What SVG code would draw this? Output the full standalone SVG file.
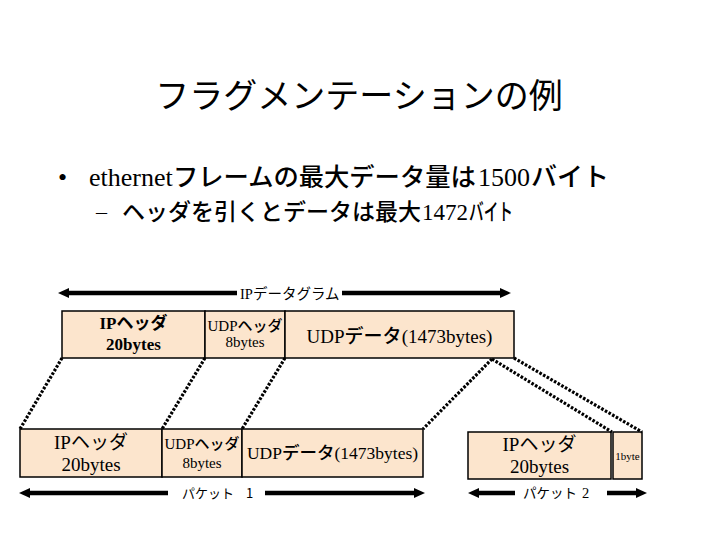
<svg xmlns="http://www.w3.org/2000/svg" width="720" height="540" viewBox="0 0 720 540">
<style>
.bx{fill:#FCE5CD;stroke:#000;stroke-width:1.5}
text{fill:#000}
.s{font-family:"Liberation Serif","Times New Roman",serif}
.j{font-family:"Noto Sans CJK JP","Noto Sans CJK SC",sans-serif}
.dot{fill:none;stroke:#000;stroke-width:3.2;stroke-dasharray:2.6 1.6}
.ar{stroke:#000;stroke-width:4.5;fill:none}
.hd{fill:#000}
</style>
<rect width="720" height="540" fill="#fff"/>
<text class="j" x="359" y="108" font-size="34" text-anchor="middle">フラグメンテーションの例</text>
<text class="s" x="58" y="186" font-size="26">•</text>
<text font-size="26" y="186"><tspan class="s" x="89">ethernet</tspan><tspan class="j" x="173" font-size="25.3" font-weight="500">フレームの最大データ量は</tspan><tspan class="s" x="478">1500</tspan><tspan class="j" x="531" font-weight="500">バイト</tspan></text>
<text class="s" x="96" y="219" font-size="22">–</text>
<text font-size="23" y="220"><tspan class="j" x="122" font-weight="500">ヘッダを引くとデータは最大</tspan><tspan class="s" x="422">1472</tspan><tspan class="j" x="469" font-weight="500" textLength="44" lengthAdjust="spacingAndGlyphs">バイト</tspan></text>

<g id="datagram-label"><text x="240" y="299" font-size="14.5"><tspan class="s">IP</tspan><tspan class="j">データグラム</tspan></text></g>

<g id="ip-header-top">
<rect class="bx" x="62" y="311" width="143" height="47"/>
<text x="133.5" y="329" font-size="17" font-weight="bold" text-anchor="middle"><tspan class="s">IP</tspan><tspan class="j">ヘッダ</tspan></text>
<text class="s" x="133.5" y="350" font-size="17" font-weight="bold" text-anchor="middle">20bytes</text>
</g>
<g id="udp-header-top">
<rect class="bx" x="205" y="311" width="80" height="47"/>
<text x="245" y="331" font-size="15" text-anchor="middle"><tspan class="s">UDP</tspan><tspan class="j" font-weight="500">ヘッダ</tspan></text>
<text class="s" x="245" y="347" font-size="15" text-anchor="middle">8bytes</text>
</g>
<g id="udp-data-top">
<rect class="bx" x="285" y="311" width="229" height="47"/>
<text x="399.5" y="343" font-size="19" text-anchor="middle"><tspan class="s">UDP</tspan><tspan class="j" font-weight="500">データ</tspan><tspan class="s">(1473bytes)</tspan></text>
</g>

<g id="ip-header-p1">
<rect class="bx" x="20" y="429" width="142" height="48"/>
<text x="91" y="449" font-size="19" text-anchor="middle"><tspan class="s">IP</tspan><tspan class="j">ヘッダ</tspan></text>
<text class="s" x="91" y="471" font-size="19" text-anchor="middle">20bytes</text>
</g>
<g id="udp-header-p1">
<rect class="bx" x="162" y="429" width="80" height="48"/>
<text x="202" y="449" font-size="15" text-anchor="middle"><tspan class="s">UDP</tspan><tspan class="j" font-weight="500">ヘッダ</tspan></text>
<text class="s" x="202" y="468" font-size="15" text-anchor="middle">8bytes</text>
</g>
<g id="udp-data-p1">
<rect class="bx" x="242" y="429" width="181" height="48"/>
<text x="332.5" y="459" font-size="17.5" text-anchor="middle"><tspan class="s">UDP</tspan><tspan class="j" font-weight="500">データ</tspan><tspan class="s">(1473bytes)</tspan></text>
</g>

<g id="ip-header-p2">
<rect class="bx" x="468" y="432" width="143" height="47"/>
<text x="539.5" y="451" font-size="19" text-anchor="middle"><tspan class="s">IP</tspan><tspan class="j">ヘッダ</tspan></text>
<text class="s" x="539.5" y="473" font-size="19" text-anchor="middle">20bytes</text>
</g>
<g id="one-byte-p2">
<rect class="bx" x="613" y="432" width="29" height="47"/>
<text class="s" x="627.5" y="460" font-size="11" text-anchor="middle">1byte</text>
</g>

<g id="packet-labels">
<text class="j" x="182" y="498" font-size="13">パケット <tspan x="246">1</tspan></text>
<text x="523" y="498" font-size="13.5"><tspan class="j">パケット </tspan><tspan class="s" x="582" font-size="14.5">2</tspan></text>
</g>

<g id="connectors">
<line class="dot" x1="62" y1="358" x2="20" y2="429"/>
<line class="dot" x1="205" y1="358" x2="162" y2="429"/>
<line class="dot" x1="285" y1="358" x2="242" y2="429"/>
<line class="dot" x1="492" y1="359" x2="423" y2="429"/>
<line class="dot" x1="492" y1="359" x2="612" y2="432"/>
<line class="dot" x1="514" y1="358" x2="642" y2="432"/>

<line class="ar" x1="66" y1="293" x2="237" y2="293"/>
<polygon class="hd" points="58,293 69,288 69,298"/>
<line class="ar" x1="342" y1="293" x2="503" y2="293"/>
<polygon class="hd" points="511,293 500,288 500,298"/>

<line class="ar" x1="27" y1="493" x2="168" y2="493"/>
<polygon class="hd" points="19,493 30,488 30,498"/>
<line class="ar" x1="265" y1="493" x2="417" y2="493"/>
<polygon class="hd" points="425,493 414,488 414,498"/>

<line class="ar" x1="476" y1="493" x2="515" y2="493"/>
<polygon class="hd" points="468,493 479,488 479,498"/>
<line class="ar" x1="607" y1="493" x2="639" y2="493"/>
<polygon class="hd" points="647,493 636,488 636,498"/>
</g>
</svg>
